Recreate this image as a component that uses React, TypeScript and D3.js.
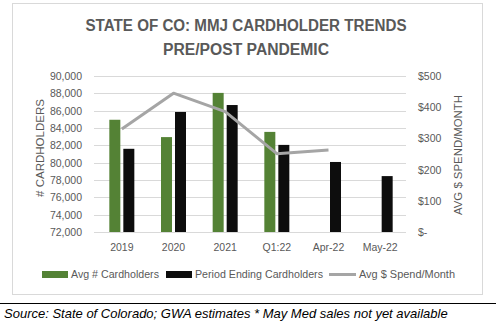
import React from "react";
import * as d3 from "d3";

const categories = ["2019", "2020", "2021", "Q1:22", "Apr-22", "May-22"];
const avgCardholders: (number | null)[] = [84950, 82950, 88050, 83550, null, null];
const periodEndingCardholders = [81600, 85850, 86650, 82050, 80080, 78450];
const avgSpendMonth: (number | null)[] = [330, 445, 386, 251, 263, null];
const leftTicks = [72000, 74000, 76000, 78000, 80000, 82000, 84000, 86000, 88000, 90000];
const rightTicks = [0, 100, 200, 300, 400, 500];
const legendLabels = ["Avg # Cardholders", "Period Ending Cardholders", "Avg $ Spend/Month"];

const W = 502, H = 333;
const plot = { left: 96, right: 406, top: 76, bottom: 232 };
const GREEN = "#548235", BLACK = "#0d0d0d", GRAY = "#a5a5a5", TXT = "#595959";
const FONT = "'Liberation Sans', Arial, sans-serif";
const TICK = 10.5;

export default function App() {
  const x = d3.scaleBand<string>().domain(categories).range([plot.left, plot.right]);
  const yL = d3.scaleLinear().domain([72000, 90000]).range([plot.bottom, plot.top]);
  const yR = d3.scaleLinear().domain([0, 500]).range([plot.bottom, plot.top]);
  const barW = 11, gap = 3;
  const fmtL = d3.format(",");
  const fmtR = (v: number) => (v === 0 ? "$-" : "$" + v);
  const lineData = categories
    .map((c, i) => ({ c, v: avgSpendMonth[i] }))
    .filter((d) => d.v != null) as { c: string; v: number }[];
  const line = d3
    .line<{ c: string; v: number }>()
    .x((d) => (x(d.c) as number) + x.bandwidth() / 2)
    .y((d) => yR(d.v));

  return (
    <div style={{ position: "absolute", left: 0, top: 0 }}>
      <svg width={W} height={H} style={{ display: "block", background: "#fff" }}>
        <rect x={12.5} y={3.5} width={470} height={291} fill="#fff" stroke="#d9d9d9" />
        <text x={246} y={31} textAnchor="middle" fontFamily={FONT} fontWeight="bold" fontSize={16} fill={TXT} textLength={321} lengthAdjust="spacingAndGlyphs">
          STATE OF CO: MMJ CARDHOLDER TRENDS
        </text>
        <text x={246} y={55} textAnchor="middle" fontFamily={FONT} fontWeight="bold" fontSize={16} fill={TXT} textLength={166} lengthAdjust="spacingAndGlyphs">
          PRE/POST PANDEMIC
        </text>
        {leftTicks.map((t) => (
          <g key={t}>
            <line x1={plot.left - 2} x2={plot.right} y1={Math.round(yL(t)) + 0.5} y2={Math.round(yL(t)) + 0.5} stroke="#d9d9d9" />
            <text x={82} y={yL(t) + 4} textAnchor="end" fontFamily={FONT} fontSize={TICK} fill={TXT}>
              {fmtL(t)}
            </text>
          </g>
        ))}
        {rightTicks.map((t) => (
          <text key={t} x={418} y={yR(t) + 4} textAnchor="start" fontFamily={FONT} fontSize={TICK} fill={TXT}>
            {fmtR(t)}
          </text>
        ))}
        <text transform={`translate(44,148) rotate(-90)`} textAnchor="middle" fontFamily={FONT} fontSize={11.5} fill={TXT} textLength={98} lengthAdjust="spacingAndGlyphs">
          # CARDHOLDERS
        </text>
        <text transform={`translate(462,155) rotate(-90)`} textAnchor="middle" fontFamily={FONT} fontSize={11} fill={TXT} textLength={120} lengthAdjust="spacingAndGlyphs">
          AVG $ SPEND/MONTH
        </text>
        {categories.map((c, i) => {
          const cx = (x(c) as number) + x.bandwidth() / 2;
          const a = avgCardholders[i];
          const p = periodEndingCardholders[i];
          return (
            <g key={c}>
              {a != null && (
                <rect x={cx - gap / 2 - barW} y={yL(a)} width={barW} height={yL(72000) - yL(a)} fill={GREEN} />
              )}
              <rect x={cx + gap / 2} y={yL(p)} width={barW} height={yL(72000) - yL(p)} fill={BLACK} />
              <text x={cx} y={251} textAnchor="middle" fontFamily={FONT} fontSize={TICK} fill={TXT}>
                {c}
              </text>
            </g>
          );
        })}
        <path d={line(lineData) || ""} fill="none" stroke={GRAY} strokeWidth={3} strokeLinejoin="round" />
        <g fontFamily={FONT} fontSize={TICK} fill={TXT}>
          <rect x={42} y={271} width={26} height={7} fill={GREEN} />
          <text x={71} y={278} textLength={88} lengthAdjust="spacingAndGlyphs">{legendLabels[0]}</text>
          <rect x={166} y={271} width={26} height={7} fill={BLACK} />
          <text x={195} y={278} textLength={128} lengthAdjust="spacingAndGlyphs">{legendLabels[1]}</text>
          <line x1={329} x2={356} y1={274.5} y2={274.5} stroke={GRAY} strokeWidth={3} />
          <text x={359} y={278} textLength={96} lengthAdjust="spacingAndGlyphs">{legendLabels[2]}</text>
        </g>
        <line x1={0} x2={496} y1={303.5} y2={303.5} stroke="#000" strokeWidth={1.2} />
        <text x={4} y={318} fontFamily={FONT} fontStyle="italic" fontSize={13} fill="#000">
          Source: State of Colorado; GWA estimates * May Med sales not yet available
        </text>
      </svg>
    </div>
  );
}
